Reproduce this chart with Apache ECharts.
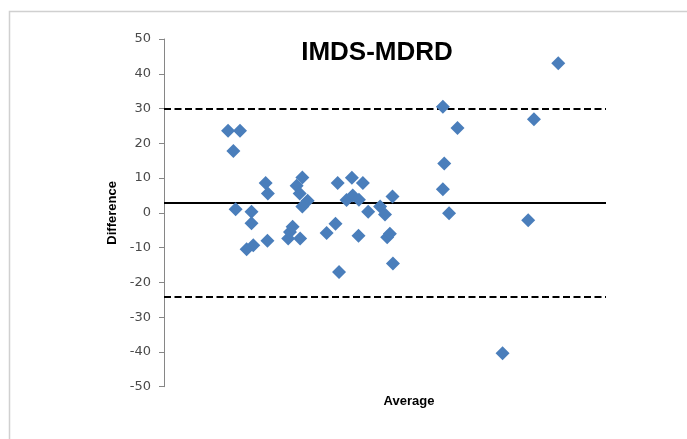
<!DOCTYPE html>
<html>
<head>
<meta charset="utf-8">
<script src="https://cdn.jsdelivr.net/npm/echarts@6/dist/echarts.min.js"></script>
<style>
  html, body { margin: 0; padding: 0; background: #fff; }
  #chart { width: 687px; height: 439px; }
</style>
</head>
<body>
<div id="chart"></div>
<script>
// Bland-Altman plot: difference vs. average of the two estimates
const chartTitle = 'IMDS-MDRD';
const xName = 'Average';
const yName = 'Difference';

const averages = [
  14.5, 17.2, 15.7, 16.2, 19.8, 19.8, 18.7, 20.2, 23.4, 23.0,
  23.5, 28.1, 28.5, 29.1, 30.8, 30.0, 31.3, 30.7, 32.5, 31.3,
  36.8, 38.8, 39.6, 39.3, 41.3, 42.5, 42.7, 44.1, 45.0, 44.0,
  46.2, 48.9, 50.0, 51.7, 50.5, 51.1, 51.8, 63.1, 66.4, 63.4,
  63.1, 64.5, 76.6, 82.4, 83.7, 89.2
];
const differences = [
  23.6, 23.6, 17.8, 1.0, 0.3, -3.0, -10.5, -9.3, -8.0, 8.6,
  5.6, -7.4, -5.5, -4.0, -7.4, 7.8, 10.2, 5.6, 3.5, 1.8,
  -5.8, -3.1, -17.0, 8.6, 3.7, 10.1, 5.0, 3.8, 8.6, -6.6,
  0.3, 1.8, -0.5, 4.7, -7.0, -6.0, -14.6, 30.5, 24.4, 14.2,
  6.8, -0.1, -40.4, -2.1, 26.9, 43.0
];

// Mean difference and limits of agreement
const meanDiff = 2.9;
const upperLimit = 30.0;
const lowerLimit = -24.2;

const yTicks = { min: -50, max: 50, step: 10 };

const points = averages.map((a, i) => [a, differences[i]]);

const chart = echarts.init(document.getElementById('chart'), null, { renderer: 'canvas' });

chart.setOption({
  backgroundColor: '#ffffff',
  animation: false,
  grid: { left: 164, right: 81, top: 39, bottom: 52.3 },
  xAxis: {
    type: 'value',
    min: 0,
    max: 100,
    show: false
  },
  yAxis: {
    type: 'value',
    min: yTicks.min,
    max: yTicks.max,
    interval: yTicks.step,
    name: yName,
    nameLocation: 'middle',
    nameRotate: 90,
    nameGap: 44,
    nameTextStyle: {
      fontFamily: 'Liberation Sans',
      fontWeight: 'bold',
      fontSize: 13,
      color: '#000'
    },
    axisLine: { show: true, lineStyle: { color: '#868686', width: 1 } },
    axisTick: { show: true, inside: false, length: 5, lineStyle: { color: '#868686' } },
    axisLabel: {
      margin: 13,
      fontFamily: 'DejaVu Sans',
      fontSize: 13,
      color: '#4a4a4a'
    },
    splitLine: { show: false }
  },
  series: [
    {
      type: 'scatter',
      data: points,
      symbol: 'diamond',
      symbolSize: [14, 14],
      itemStyle: { color: '#4A7EBB', opacity: 1 },
      z: 3,
      markLine: {
        silent: true,
        symbol: ['none', 'none'],
        label: { show: false },
        z: 2,
        data: [
          { yAxis: meanDiff, lineStyle: { color: '#000', width: 2, type: 'solid' } },
          { yAxis: upperLimit, lineStyle: { color: '#000', width: 2, type: [7, 3.5] } },
          { yAxis: lowerLimit, lineStyle: { color: '#000', width: 2, type: [7, 3.5] } }
        ]
      }
    }
  ],
  graphic: [
    {
      type: 'rect',
      shape: { x: 9.5, y: 11.5, width: 720, height: 480 },
      style: { fill: 'none', stroke: '#D0D0D0', lineWidth: 1.5 },
      silent: true,
      z: -1
    },
    {
      type: 'text',
      x: 377,
      y: 53,
      style: {
        text: chartTitle,
        fontFamily: 'Liberation Sans',
        fontWeight: 'bold',
        fontSize: 26,
        fill: '#000',
        textAlign: 'center',
        textVerticalAlign: 'middle'
      }
    },
    {
      type: 'text',
      x: 409,
      y: 401,
      style: {
        text: xName,
        fontFamily: 'Liberation Sans',
        fontWeight: 'bold',
        fontSize: 13,
        fill: '#000',
        textAlign: 'center',
        textVerticalAlign: 'middle'
      }
    }
  ]
});
</script>
</body>
</html>
